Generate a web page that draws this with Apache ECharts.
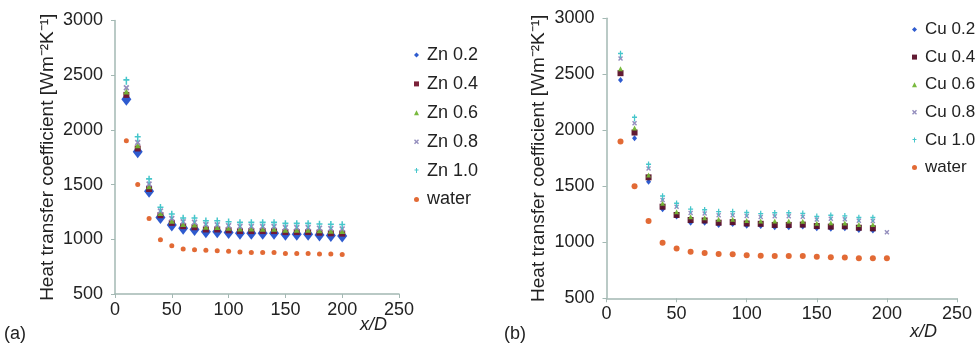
<!DOCTYPE html>
<html>
<head>
<meta charset="utf-8">
<script src="https://cdn.jsdelivr.net/npm/echarts@6/dist/echarts.min.js"></script>
<style>html,body{margin:0;padding:0;background:#fff;}#c{width:975px;height:347px;}</style>
</head>
<body>
<div id="c"></div>
<script>
const xs = [10,20,30,40,50,60,70,80,90,100,110,120,130,140,150,160,170,180,190,200];
const xTicks = [0,50,100,150,200,250];
const yTicks = [500,1000,1500,2000,2500,3000];

const zn02 = [2280,1800,1440,1200,1130,1100,1090,1070,1070,1062,1055,1055,1055,1055,1046,1046,1046,1040,1035,1030];
const zn04 = [2320,1830,1460,1220,1150,1120,1110,1090,1090,1082,1075,1075,1075,1075,1066,1066,1066,1060,1055,1052];
const zn06 = [2350,1860,1485,1240,1170,1140,1135,1115,1112,1105,1098,1098,1097,1097,1088,1088,1087,1082,1078,1075];
const zn08 = [2385,1885,1505,1258,1190,1160,1155,1135,1132,1125,1118,1118,1117,1117,1108,1108,1107,1102,1098,1095];
const zn10 = [2450,1930,1545,1285,1224,1187,1187,1162,1162,1153,1147,1147,1147,1147,1138,1138,1138,1133,1130,1128];
const waterA = [1900,1500,1190,995,940,912,905,900,895,890,885,880,880,880,870,870,870,865,865,860];

const cu02 = [2450,1930,1540,1295,1230,1175,1175,1155,1163,1148,1146,1135,1135,1140,1125,1120,1125,1110,1105,null];
const cu04 = [2510,1980,1580,1318,1244,1199,1195,1175,1180,1168,1165,1155,1155,1158,1145,1140,1143,1130,1125,null];
const cu06 = [2550,2020,1600,1348,1273,1229,1220,1205,1205,1195,1190,1190,1190,1188,1170,1175,1172,1160,1158,null];
const cu08 = [2640,2063,1660,1378,1318,1262,1258,1242,1242,1235,1225,1232,1232,1228,1203,1210,1206,1192,1190,1090];
const cu10 = [2680,2110,1690,1407,1342,1290,1285,1268,1268,1260,1250,1258,1258,1252,1225,1235,1230,1215,1215,null];
const waterB = [1900,1500,1190,995,945,915,905,895,893,885,880,878,878,878,870,867,865,858,857,857];

const namesA = ['Zn 0.2','Zn 0.4','Zn 0.6','Zn 0.8','Zn 1.0','water'];
const namesB = ['Cu 0.2','Cu 0.4','Cu 0.6','Cu 0.8','Cu 1.0','water'];
const yTitle = 'Heat transfer coefficient [Wm\u207B\u00B2K\u207B\u00B9]';

const FONT = 'Liberation Sans, Arial, sans-serif';
const AXC = '#a3b8b3';
const TXT = '#222';
const colors = ['#2352cc','#74162e','#72b634','#8f89bb','#3cc3c8','#e0622a'];
const xPath = 'path://M2,0 L5,3 L8,0 L10,2 L7,5 L10,8 L8,10 L5,7 L2,10 L0,8 L3,5 L0,2 Z';
const crossPath = 'path://M4,0 H6 V3 H9 V5 H6 V10 H4 V5 H1 V3 H4 Z';

function pts(vals){ return xs.map((x,i)=> vals[i]==null ? null : [x, vals[i]]).filter(p=>p); }

function xAxisDef(gi){
  return {type:'value', gridIndex:gi, min:0, max:250, interval:50,
    axisLine:{lineStyle:{color:AXC,width:1.5}}, axisTick:{show:true,length:4,lineStyle:{color:AXC}},
    splitLine:{show:false},
    axisLabel:{color:TXT,fontSize:18,fontFamily:FONT,margin:7,formatter:v=>String(v)}};
}
function yAxisDef(gi){
  return {type:'value', gridIndex:gi, min:500, max:3000, interval:500,
    axisLine:{show:true,lineStyle:{color:AXC,width:1.5}}, axisTick:{show:true,length:4,lineStyle:{color:AXC}},
    splitLine:{show:false},
    axisLabel:{color:TXT,fontSize:18,fontFamily:FONT,margin:12,formatter:v=>String(v)},
    name:yTitle, nameLocation:'middle', nameGap:58,
    nameTextStyle:{color:TXT,fontSize:19,fontFamily:FONT}};
}

const symA = [['diamond',[10,13]],['rect',6],['triangle',6],[xPath,6],[crossPath,[6,8]],['circle',5]];
const symB = [['diamond',[5,6]],['rect',6],['triangle',5],[xPath,5],[crossPath,[5,7]],['circle',6]];
const dataA = [zn02,zn04,zn06,zn08,zn10,waterA];
const dataB = [cu02,cu04,cu06,cu08,cu10,waterB];

const series = [];
namesA.forEach((n,i)=>series.push({type:'scatter',name:n,xAxisIndex:0,yAxisIndex:0,
  symbol:symA[i][0],symbolSize:symA[i][1],itemStyle:{color:colors[i],opacity:0.95},data:pts(dataA[i]),z:2+i}));
namesB.forEach((n,i)=>series.push({type:'scatter',name:n,xAxisIndex:1,yAxisIndex:1,
  symbol:symB[i][0],symbolSize:symB[i][1],itemStyle:{color:i===1?'#5a0f28':colors[i],opacity:0.95},data:pts(dataB[i]),z:2+i}));

function legendDef(names,left,top,gap,fs){
  return {orient:'vertical',left:left,top:top,data:names,itemWidth:5,itemHeight:5,itemGap:gap,
    selectedMode:false,textStyle:{color:TXT,fontSize:fs,fontFamily:FONT,padding:[0,0,0,3]}};
}

const chart = echarts.init(document.getElementById('c'),null,{renderer:'canvas'});
chart.setOption({
  animation:false,
  backgroundColor:'#fff',
  grid:[
    {left:115,top:20.5,width:284,height:273.5},
    {left:606.5,top:18.3,width:350.8,height:280}
  ],
  xAxis:[xAxisDef(0),xAxisDef(1)],
  yAxis:[yAxisDef(0),yAxisDef(1)],
  legend:[legendDef(namesA,409,41,10.9,18),legendDef(namesB,907,16,10.6,17)],
  series:series,
  graphic:[
    {type:'text',left:360,top:316,style:{text:'x/D',fill:TXT,font:'italic 18px '+FONT}},
    {type:'text',left:910,top:323,style:{text:'x/D',fill:TXT,font:'italic 18px '+FONT}},
    {type:'text',left:4,top:325,style:{text:'(a)',fill:TXT,font:'18px '+FONT}},
    {type:'text',left:504,top:325,style:{text:'(b)',fill:TXT,font:'18px '+FONT}}
  ]
});
</script>
</body>
</html>
